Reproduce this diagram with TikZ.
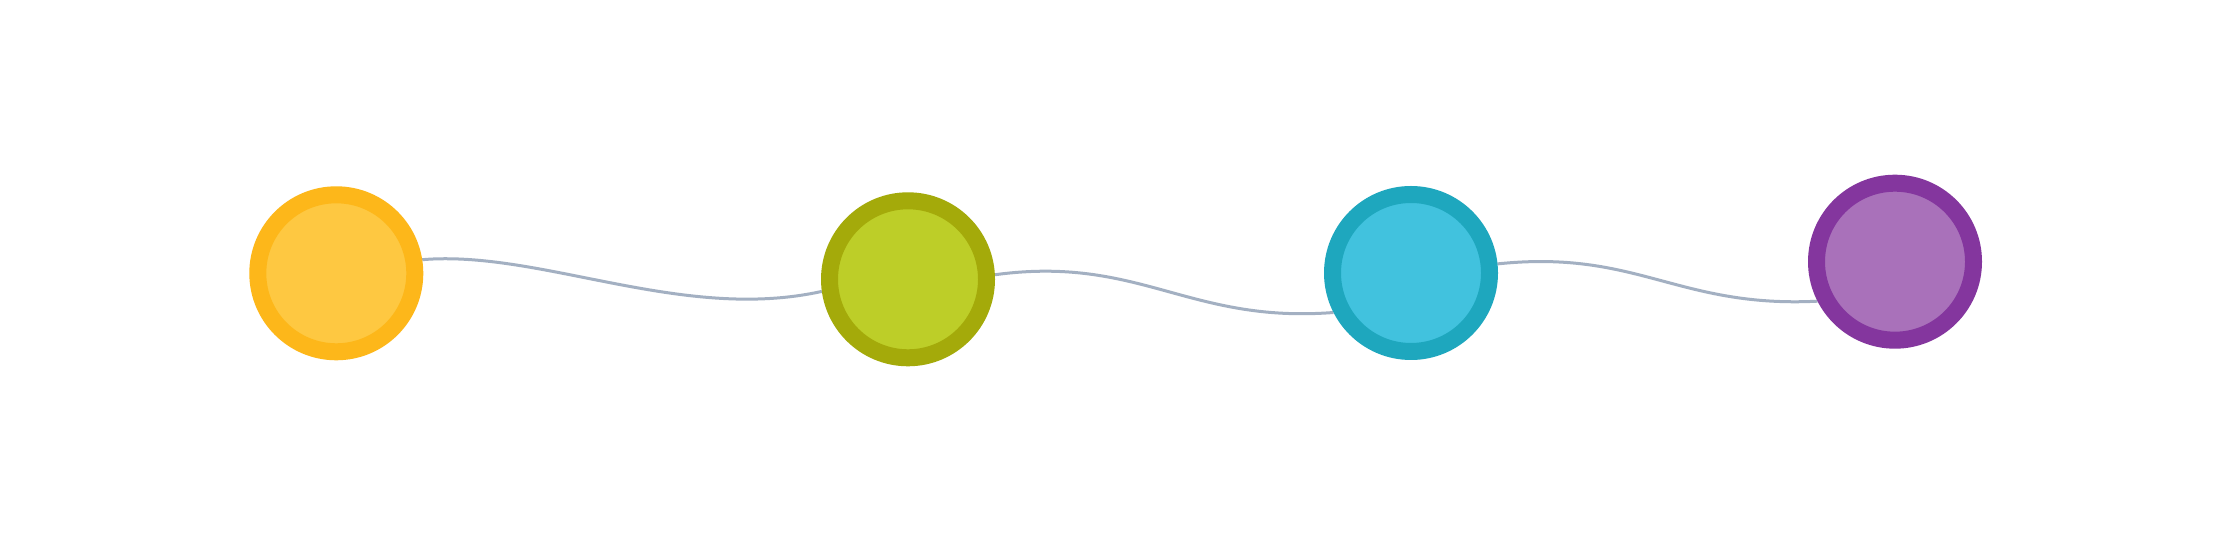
\documentclass[tikz,border=0pt]{standalone}
\usetikzlibrary{backgrounds}
\definecolor{ringY}{RGB}{253,183,26}
\definecolor{fillY}{RGB}{254,200,65}
\definecolor{ringG}{RGB}{164,170,10}
\definecolor{fillG}{RGB}{189,206,40}
\definecolor{ringC}{RGB}{30,167,190}
\definecolor{fillC}{RGB}{65,194,222}
\definecolor{ringP}{RGB}{132,54,158}
\definecolor{fillP}{RGB}{169,113,186}
\definecolor{wire}{RGB}{163,176,194}
\tikzset{
  dot/.style={circle, line width=17pt, minimum size=157pt, inner sep=0pt, outer sep=8.5pt},
  wave/.style={draw=wire, line width=3pt}
}
\begin{document}
\begin{tikzpicture}[x=1pt,y=1pt]
\useasboundingbox (0,0) rectangle (2233,559);
\node[dot, draw=ringY, fill=fillY] (a) at (336.3,285.7) {};
\node[dot, draw=ringG, fill=fillG] (b) at (908,279.7) {};
\node[dot, draw=ringC, fill=fillC] (c) at (1411,286) {};
\node[dot, draw=ringP, fill=fillP] (d) at (1895,297.3) {};
\begin{scope}[on background layer]
\fill[white] (0,0) rectangle (2233,559);
\draw[wave] (a.9) .. controls +(118,10) and +(-140,-31) .. (b.188);
\draw[wave] (b.3.3) .. controls +(145,19.6) and +(-145,-11.2) .. (c.207.7);
\draw[wave] (c.6.7) .. controls +(140,14.7) and +(-140,-7) .. (d.207.6);
\end{scope}
\end{tikzpicture}
\end{document}
